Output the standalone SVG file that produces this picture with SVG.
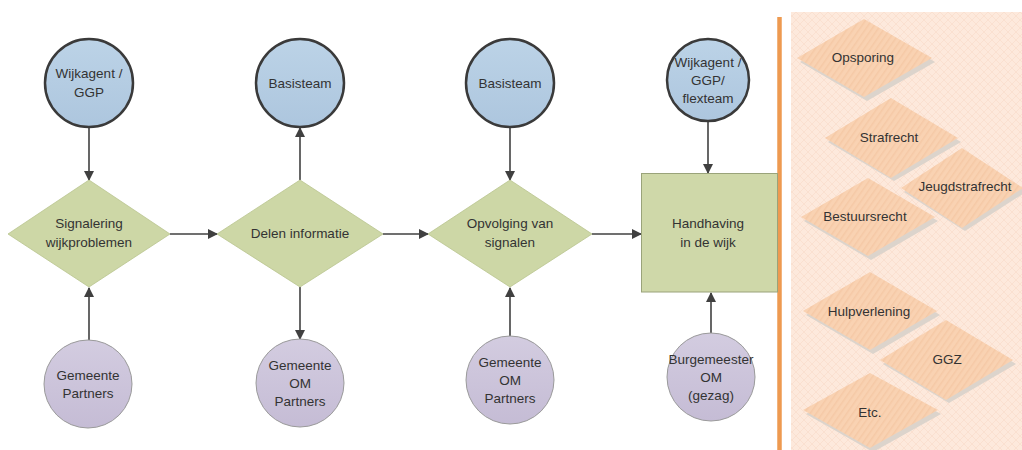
<svg xmlns="http://www.w3.org/2000/svg" width="1022" height="450" viewBox="0 0 1022 450">
<defs>
<style>
text{font-family:"Liberation Sans",Arial,sans-serif;font-size:13.5px;fill:#333;text-anchor:middle}
.top{fill:url(#gBlue);stroke:#3a3a3a;stroke-width:2.5}
.bot{fill:url(#gPurple);stroke:#9a9a9a;stroke-width:1}
.dia{fill:#cdd7a6;stroke:#b9c48e;stroke-width:0.8}
.rect{fill:#cfd8a9;stroke:#9aa37a;stroke-width:1}
.edge{stroke:#404040;stroke-width:1.6;fill:none;marker-end:url(#arr)}
.pd{fill:url(#stripe)}
.sh{fill:#dcd4cc}
</style>
<linearGradient id="gBlue" x1="0" y1="0" x2="0" y2="1"><stop offset="0" stop-color="#bcd3e7"/><stop offset="1" stop-color="#adc6de"/></linearGradient>
<linearGradient id="gPurple" x1="0" y1="0" x2="0" y2="1"><stop offset="0" stop-color="#d3cce0"/><stop offset="1" stop-color="#c5bcd5"/></linearGradient>
<pattern id="hatch" width="8" height="8" patternUnits="userSpaceOnUse">
<rect width="8" height="8" fill="#fde9dc"/>
<path d="M0,0L8,8M8,0L0,8" stroke="#f9ddcb" stroke-width="0.7"/>
</pattern>
<pattern id="stripe" width="5" height="5" patternUnits="userSpaceOnUse" patternTransform="rotate(35)">
<rect width="5" height="5" fill="#f9d2b2"/>
<rect width="1.5" height="5" fill="#f5c9a6"/>
</pattern>
<marker id="arr" markerWidth="10" markerHeight="10" refX="9" refY="5" orient="auto" markerUnits="userSpaceOnUse">
<path d="M0,0L10,5L0,10z" fill="#404040"/>
</marker>
</defs>
<rect width="1022" height="450" fill="#fff"/>
<rect x="791" y="12" width="231" height="438" fill="url(#hatch)"/>
<line x1="779.5" y1="17" x2="779.5" y2="450" stroke="#ee9a50" stroke-width="4.5"/>

<g id="connectors">
<line class="edge" x1="89" y1="128" x2="89" y2="180"/>
<line class="edge" x1="89" y1="340" x2="89" y2="288"/>
<line class="edge" x1="170" y1="234" x2="217" y2="234"/>
<line class="edge" x1="300" y1="180" x2="300" y2="128"/>
<line class="edge" x1="300" y1="287" x2="300" y2="339"/>
<line class="edge" x1="383" y1="234" x2="428" y2="234"/>
<line class="edge" x1="510" y1="128" x2="510" y2="180"/>
<line class="edge" x1="510" y1="336" x2="510" y2="288"/>
<line class="edge" x1="592" y1="234" x2="641" y2="234"/>
<line class="edge" x1="708" y1="121" x2="708" y2="173"/>
<line class="edge" x1="711" y1="333" x2="711" y2="293"/>
</g>

<g id="n1"><circle class="top" cx="89" cy="83" r="44"/><text x="89" y="78">Wijkagent /</text><text x="89" y="97">GGP</text></g>
<g id="n2"><path class="dia" d="M8,234L89,180L170,234L89,287z"/><text x="89" y="228">Signalering</text><text x="89" y="247">wijkproblemen</text></g>
<g id="n3"><circle class="bot" cx="88" cy="384" r="44"/><text x="88" y="380">Gemeente</text><text x="88" y="398">Partners</text></g>
<g id="n4"><circle class="top" cx="300" cy="83" r="44"/><text x="300" y="88">Basisteam</text></g>
<g id="n5"><path class="dia" d="M217,234L300,180L383,234L300,287z"/><text x="300" y="238">Delen informatie</text></g>
<g id="n6"><circle class="bot" cx="300" cy="383" r="44"/><text x="300" y="370">Gemeente</text><text x="300" y="388">OM</text><text x="300" y="406">Partners</text></g>
<g id="n7"><circle class="top" cx="510" cy="83" r="44"/><text x="510" y="88">Basisteam</text></g>
<g id="n8"><path class="dia" d="M428,234L510,180L592,234L510,287z"/><text x="510" y="228">Opvolging van</text><text x="510" y="247">signalen</text></g>
<g id="n9"><circle class="bot" cx="510" cy="380" r="44"/><text x="510" y="367">Gemeente</text><text x="510" y="385">OM</text><text x="510" y="403">Partners</text></g>
<g id="n10"><circle class="top" cx="708" cy="80" r="41"/><text x="708" y="67">Wijkagent /</text><text x="708" y="85">GGP/</text><text x="708" y="103">flexteam</text></g>
<g id="n11"><rect class="rect" x="641.5" y="173.5" width="136" height="118.5"/><text x="708" y="228">Handhaving</text><text x="708" y="247">in de wijk</text></g>
<g id="n12"><circle class="bot" cx="711" cy="377" r="44"/><text x="711" y="364">Burgemeester</text><text x="711" y="382">OM</text><text x="711" y="400">(gezag)</text></g>

<g id="p1"><path class="sh" d="M800,62L867,22L935,62L867,101z"/><path class="pd" d="M797,58L864,19L932,58L864,97z"/><text x="863" y="62">Opsporing</text></g>
<g id="p2"><path class="sh" d="M828,142L894,102L961,142L894,181z"/><path class="pd" d="M825,138L891,98L958,138L891,178z"/><text x="889" y="142">Strafrecht</text></g>
<g id="p3"><path class="sh" d="M904,192L965,152L1026,192L965,231z"/><path class="pd" d="M901,188L962,148L1023,188L962,228z"/><text x="965" y="191">Jeugdstrafrecht</text></g>
<g id="p4"><path class="sh" d="M804,221L871,182L938,221L871,260z"/><path class="pd" d="M801,217L868,178L935,217L868,256z"/><text x="865" y="221">Bestuursrecht</text></g>
<g id="p5"><path class="sh" d="M806,315L873,276L940,315L873,354z"/><path class="pd" d="M803,311L870,272L937,311L870,350z"/><text x="869" y="316">Hulpverlening</text></g>
<g id="p6"><path class="sh" d="M883,364L949,324L1016,364L949,403z"/><path class="pd" d="M880,360L946,320L1013,360L946,400z"/><text x="947" y="364">GGZ</text></g>
<g id="p7"><path class="sh" d="M806,414L873,377L941,414L873,452z"/><path class="pd" d="M803,410L870,373L938,410L870,448z"/><text x="870" y="417">Etc.</text></g>
</svg>
